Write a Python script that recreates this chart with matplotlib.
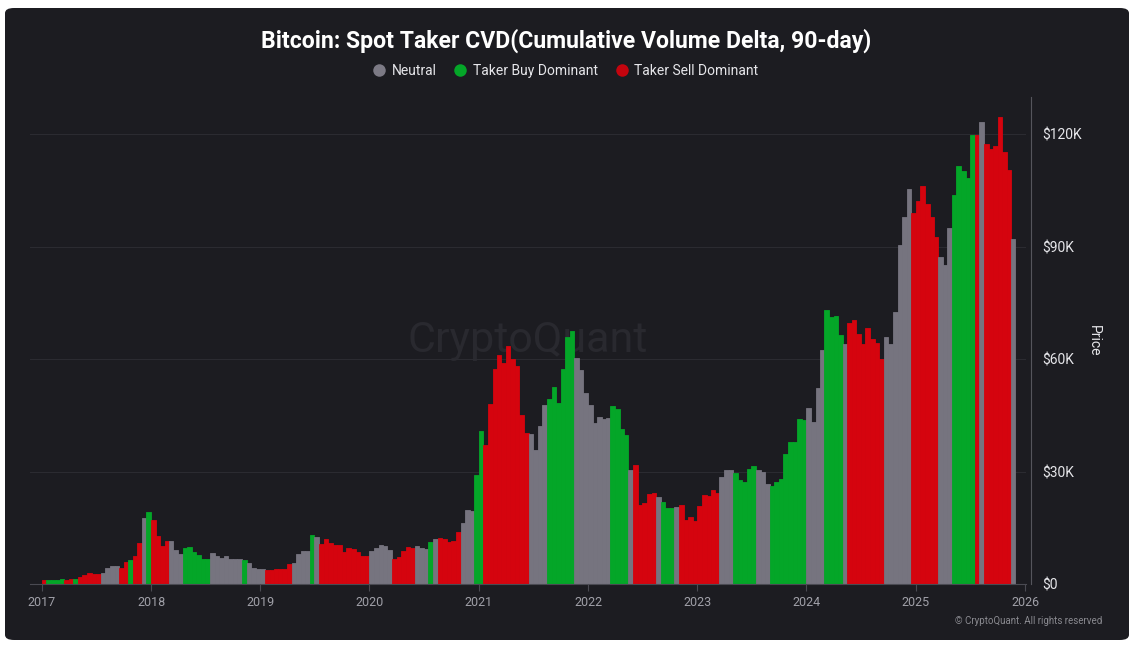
import numpy as np
import pandas as pd
import matplotlib
matplotlib.use("Agg")
import matplotlib.pyplot as plt
import matplotlib.dates as mdates
from matplotlib.patches import FancyBboxPatch
from matplotlib.lines import Line2D

# half-month BTC price (thousand USD, period high as drawn), 1st and 16th of each month
p2017 = [1.15, 0.97, 1.01, 1.19, 1.25, 1.12, 1.21, 1.35, 1.80, 2.40, 2.97, 2.70,
         2.60, 2.87, 4.33, 4.75, 4.90, 4.40, 5.85, 6.45, 7.40, 10.9, 17.5, 19.3]
p2018 = [17.2, 12.8, 10.2, 11.4, 11.5, 9.0, 8.0, 9.6, 9.8, 8.5, 7.7, 6.7,
         6.75, 8.4, 7.6, 7.0, 7.4, 6.7, 6.6, 6.6, 6.5, 5.6, 4.2, 4.1]
p2019 = [4.0, 3.7, 3.7, 4.1, 3.95, 4.1, 5.3, 5.6, 8.0, 8.7, 8.8, 13.0,
         12.5, 10.6, 12.0, 10.9, 10.5, 10.3, 8.6, 9.5, 9.4, 8.6, 7.6, 7.5]
p2020 = [8.9, 9.5, 10.35, 10.2, 9.1, 6.8, 7.3, 8.8, 9.8, 9.7, 10.2, 9.6,
         9.4, 11.3, 11.9, 12.3, 11.9, 11.1, 11.5, 13.8, 16.3, 19.7, 19.4, 29.0]
p2021 = [40.8, 37.0, 48.0, 57.5, 61.2, 58.9, 63.5, 60.0, 58.2, 45.0, 40.2, 40.0,
         35.9, 42.2, 47.8, 49.3, 52.7, 48.2, 57.4, 66.0, 67.5, 60.4, 57.2, 51.0]
p2022 = [47.7, 43.1, 44.5, 44.0, 44.4, 47.4, 46.6, 41.4, 39.7, 30.4, 31.8, 21.1,
         21.6, 24.0, 24.4, 23.3, 21.8, 20.3, 20.3, 20.6, 21.0, 17.1, 17.8, 16.9]
p2023 = [20.9, 23.7, 23.4, 25.0, 24.2, 28.5, 30.3, 30.4, 29.5, 27.7, 27.2, 30.7,
         31.5, 30.3, 29.8, 26.7, 26.2, 27.2, 28.0, 34.7, 37.9, 38.0, 44.0, 43.7]
p2024 = [46.9, 43.3, 52.2, 62.5, 73.1, 71.3, 71.6, 66.4, 64.0, 69.8, 70.5, 66.7,
         64.0, 68.3, 65.4, 64.2, 60.0, 66.0, 64.0, 72.7, 90.5, 98.0, 105.5, 99.0]
p2025 = [102.3, 106.2, 101.4, 98.0, 92.5, 87.4, 85.2, 95.0, 103.8, 111.7, 110.3,
         108.4, 119.8, 119.9, 123.3, 117.5, 116.0, 117.0, 124.7, 115.3, 110.6, 92.0]

# regime per half-month: N neutral, B taker buy dominant, S taker sell dominant
r2017 = "SBBBBSSBSSSSSNNNNSSBSSNB"
r2018 = "SSSSNNNBBBBBBNNNNNNNBNNN"
r2019 = "NSSSSSSNNNNBNSSSSSSSSSSS"
r2020 = "NNNNNSSSSSNNNBNSSSSSNNNB"
r2021 = "BSSSSSSSSSSNNNNBBBBBBNNN"
r2022 = "NNNNNBBBBNSSSSSNBBBNSSSS"
r2023 = "SSSSSNNNBBBBBNNNBBBBBBBB"
r2024 = "NNNNBBBBNSSSSSSSSNNNNNNS"
r2025 = "SSSSSNNNBBBBBSNSSSSSSN"

years = [2017, 2018, 2019, 2020, 2021, 2022, 2023, 2024, 2025]
prices = [p2017, p2018, p2019, p2020, p2021, p2022, p2023, p2024, p2025]
regimes = [r2017, r2018, r2019, r2020, r2021, r2022, r2023, r2024, r2025]

price_ticks = [0, 30, 60, 90, 120]
price_labels = ["$0", "$30K", "$60K", "$90K", "$120K"]
legend_names = ["Neutral", "Taker Buy Dominant", "Taker Sell Dominant"]

colors = {"N": "#76747f", "B": "#04a628", "S": "#d5040e"}
bg = "#1c1c21"

dates, vals, regs = [], [], []
for y, p, r in zip(years, prices, regimes):
    for i, (v, c) in enumerate(zip(p, r)):
        m = i // 2 + 1
        d = 1 if i % 2 == 0 else 16
        dates.append(pd.Timestamp(y, m, d))
        vals.append(v)
        regs.append(c)
ends = dates[1:] + [pd.Timestamp(2025, 11, 28)]
x = mdates.date2num(dates)
w = mdates.date2num(ends) - x

W, H = 1132, 647
plt.rcParams["font.family"] = ["Roboto", "DejaVu Sans"]
fig = plt.figure(figsize=(W / 100, H / 100), dpi=100, facecolor="white")

panel = FancyBboxPatch((5 / W, 7 / H), 1124 / W, 632 / H,
                       boxstyle="round,pad=0,rounding_size=0.008",
                       transform=fig.transFigure, facecolor=bg, edgecolor="none", zorder=-5)
fig.patches.append(panel)

ax = fig.add_axes([30 / W, (H - 584) / H, (1026 - 30) / W, (584 - 97) / H])
ax.set_facecolor("none")
ax.set_zorder(2)

ax.text(0.5, 0.50, "CryptoQuant", transform=ax.transAxes, ha="center", va="center",
        fontsize=31, color="#29292f", zorder=0)

bar_cols = [colors[c] for c in regs]
ax.bar(x, vals, width=w, align="edge", color=bar_cols, edgecolor=bar_cols,
       linewidth=0.6, zorder=2)

ax.set_ylim(0, 130)
ax.set_xlim(mdates.date2num(pd.Timestamp(2016, 11, 22)),
            mdates.date2num(pd.Timestamp(2026, 1, 4)))

ax.yaxis.tick_right()
ax.yaxis.set_label_position("right")
ax.set_yticks(price_ticks)
ax.set_yticklabels(price_labels)
ax.tick_params(axis="y", length=0, pad=8, labelsize=10, labelcolor="#e6e6ea")
ax.set_ylabel("Price", rotation=270, color="#e6e6ea", fontsize=10, labelpad=14)
ax.grid(axis="y", color="#2b2b31", linewidth=0.8, zorder=1)
ax.set_axisbelow(True)

ax.xaxis.set_major_locator(mdates.YearLocator())
ax.xaxis.set_major_formatter(mdates.DateFormatter("%Y"))
ax.tick_params(axis="x", length=5, color="#4a4a52", pad=4, labelsize=9,
               labelcolor="#a0a0a8")

for s in ["top", "left"]:
    ax.spines[s].set_visible(False)
ax.spines["bottom"].set_color("#4a4a52")
ax.spines["right"].set_color("#55555c")
ax.spines["right"].set_position(("outward", 3.6))

fig.text(0.5, 1 - 41 / H, "Bitcoin: Spot Taker CVD(Cumulative Volume Delta, 90-day)",
         ha="center", va="center", fontsize=16.6, fontweight="bold", color="white")

handles = [Line2D([], [], marker="o", linestyle="none", markersize=9,
                  markerfacecolor=col, markeredgecolor="none")
           for col in ["#7c7a85", "#04a628", "#c4040e"]]
fig.legend(handles, legend_names, loc="center", bbox_to_anchor=(0.5, 1 - 71 / H),
           ncol=3, frameon=False, fontsize=10, labelcolor="#e6e6ea",
           handlelength=0.8, handletextpad=0.5, columnspacing=1.3)

fig.text(1102 / W, 1 - 621 / H, "© CryptoQuant. All rights reserved", ha="right",
         va="center", fontsize=7, color="#8a8a90")

fig.savefig("out.png", dpi=100, facecolor="white")
